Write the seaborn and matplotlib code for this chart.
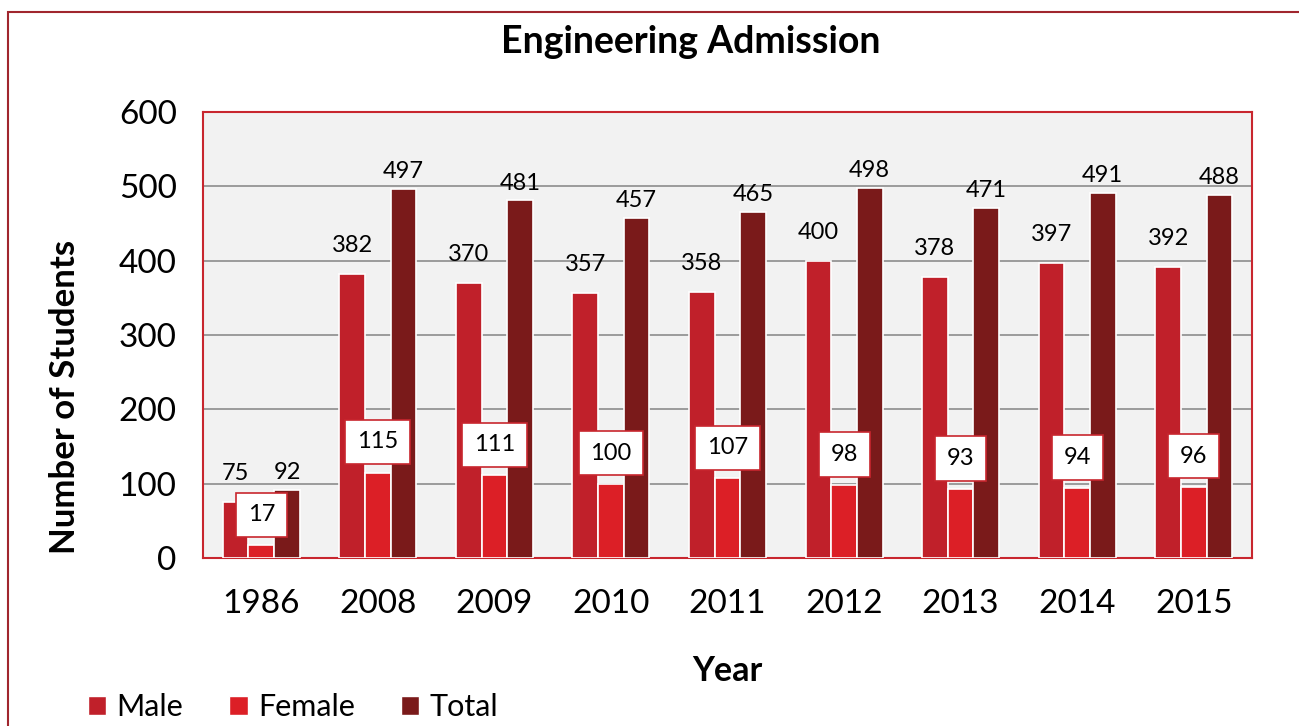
import matplotlib
matplotlib.use("Agg")
import matplotlib.pyplot as plt
import seaborn as sns
import pandas as pd
from matplotlib.patches import Rectangle, Patch
from matplotlib.ticker import MultipleLocator, FixedLocator

# Data
years = ["1986", "2008", "2009", "2010", "2011", "2012", "2013", "2014", "2015"]
male = [75, 382, 370, 357, 358, 400, 378, 397, 392]
female = [17, 115, 111, 100, 107, 98, 93, 94, 96]
total = [92, 497, 481, 457, 465, 498, 471, 491, 488]

series = ["Male", "Female", "Total"]
colors = ["#c0202a", "#dc1f26", "#7a1a1a"]

df = pd.DataFrame({"Year": years * 3,
                   "Group": ["Male"] * 9 + ["Female"] * 9 + ["Total"] * 9,
                   "Students": male + female + total})

sns.set_style("white")
plt.rcParams["font.family"] = ["Lato", "DejaVu Sans"]
plt.rcParams["text.color"] = "black"
plt.rcParams["axes.labelcolor"] = "black"

fig = plt.figure(figsize=(12.99, 7.26), dpi=100)
ax = fig.add_axes([0.1563, 0.2314, 0.8075, 0.6143])
ax.set_facecolor("#f2f2f2")

sns.barplot(data=df, x="Year", y="Students", hue="Group", hue_order=series,
            palette=colors, saturation=1, width=0.66, edgecolor="white",
            linewidth=1.2, ax=ax, legend=False, zorder=3)

ax.set_ylim(0, 600)
ax.set_xlim(-0.5, len(years) - 0.5)
ax.yaxis.set_major_locator(MultipleLocator(100))
for y in range(100, 600, 100):
    ax.axhline(y, color="#8c8c8c", lw=1.2, zorder=1)

for s in ax.spines.values():
    s.set_color("#c8262e")
    s.set_linewidth(1.5)

ax.tick_params(axis="y", colors="#c8262e", length=9, width=1.5, labelsize=24,
               labelcolor="black", pad=10)
ax.tick_params(axis="x", which="major", length=0, labelsize=24, pad=22,
               labelcolor="black")
ax.xaxis.set_minor_locator(FixedLocator([i + 0.5 for i in range(-1, len(years))]))
ax.tick_params(axis="x", which="minor", colors="#c8262e", length=9, width=1.5)

ax.set_xlabel("Year", fontsize=24.5, fontweight="bold")
ax.set_ylabel("Number of Students", fontsize=25, fontweight="bold")
ax.xaxis.set_label_coords(0.4995, -0.2175)
ax.yaxis.set_label_coords(-0.116, 0.361)
fig.text(0.532, 0.942, "Engineering Admission", fontsize=27, fontweight="bold",
         ha="center", va="center")

# value labels
conts = ax.containers
for bar, v in zip(conts[0], male):
    ax.annotate(str(v), (bar.get_x() + bar.get_width() / 2, bar.get_height()),
                xytext=(0, 13), textcoords="offset points", ha="center",
                va="bottom", fontsize=17, zorder=5)
for bar, v in zip(conts[2], total):
    ax.annotate(str(v), (bar.get_x() + bar.get_width() / 2, bar.get_height()),
                xytext=(0, 5), textcoords="offset points", ha="center",
                va="bottom", fontsize=17, zorder=5)
for bar, v in zip(conts[1], female):
    ax.annotate(str(v), (bar.get_x() + bar.get_width() / 2, bar.get_height()),
                xytext=(0, 22), textcoords="offset points", ha="center",
                va="center", fontsize=17, zorder=6,
                bbox=dict(boxstyle="square,pad=0.5", fc="white",
                          ec="#c8262e", lw=1.2))

handles = [Patch(facecolor=c, edgecolor="white", label=s) for s, c in zip(series, colors)]
fig.legend(handles=handles, loc="center left", bbox_to_anchor=(0.058, 0.026),
           ncol=3, frameon=False, fontsize=22, handlelength=0.6, handleheight=0.6,
           handletextpad=0.35, columnspacing=1.5, borderaxespad=0)

# outer frame of the chart area
fig.patches.append(Rectangle((8 / 1299, -0.1), 1.2, 1 - 12 / 726 + 0.1,
                             transform=fig.transFigure, fill=False,
                             ec="#a0262e", lw=1.5))

fig.savefig("out.png", dpi=100)
